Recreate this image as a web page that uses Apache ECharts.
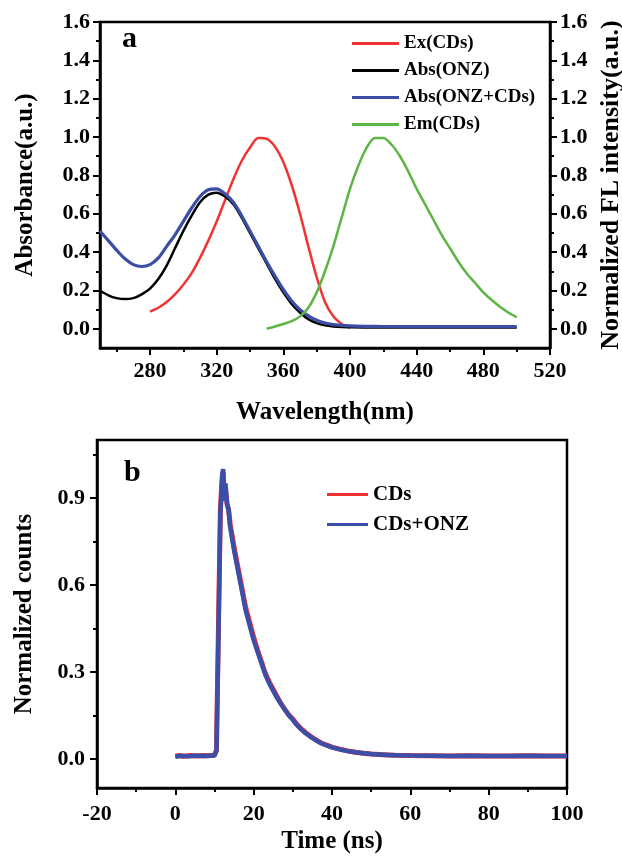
<!DOCTYPE html>
<html>
<head>
<meta charset="utf-8">
<script src="https://cdn.jsdelivr.net/npm/echarts@6/dist/echarts.min.js"></script>
<style>
html,body{margin:0;padding:0;background:#fff;}
#chart{width:622px;height:857px;}
</style>
</head>
<body>
<div id="chart"></div>
<script>
// ---- Panel a data ----
var absWavelength = [250,255,260,265,270,275,280,285,290,295,300,305,310,315,320,325,330,335,340,345,350,355,360,365,370,375,380,385,390,395,400,410,420,440,460,480,500];
var absONZ = [0.20,0.175,0.16,0.155,0.16,0.18,0.21,0.26,0.33,0.42,0.51,0.59,0.66,0.70,0.71,0.69,0.65,0.58,0.50,0.42,0.34,0.26,0.19,0.13,0.085,0.05,0.03,0.018,0.012,0.009,0.008,0.007,0.007,0.007,0.007,0.007,0.007];
var absONZCDs = [0.51,0.46,0.41,0.365,0.335,0.325,0.335,0.37,0.43,0.49,0.56,0.63,0.69,0.725,0.73,0.705,0.66,0.59,0.51,0.43,0.35,0.275,0.205,0.145,0.10,0.068,0.045,0.03,0.022,0.018,0.015,0.013,0.012,0.011,0.011,0.011,0.011];
var exWavelength = [280,285,290,295,300,305,310,315,320,325,330,335,340,345,350,355,360,365,370,375,380,385,390,395,400];
var exCDs = [0.09,0.11,0.14,0.18,0.23,0.29,0.37,0.46,0.56,0.67,0.78,0.875,0.945,0.995,0.99,0.95,0.87,0.75,0.60,0.43,0.27,0.14,0.065,0.025,0.005];
var emWavelength = [350,355,360,365,370,375,380,385,390,395,400,405,410,415,420,425,430,435,440,445,450,455,460,465,470,475,480,485,490,495,500];
var emCDs = [0.0,0.012,0.025,0.04,0.065,0.11,0.19,0.30,0.43,0.58,0.73,0.85,0.945,0.995,0.995,0.96,0.90,0.82,0.73,0.65,0.57,0.49,0.42,0.35,0.29,0.24,0.19,0.15,0.115,0.085,0.06];
var wlLabelTicks = [280,320,360,400,440,480,520];
var wlMinorTicks = [260,300,340,380,420,460,500];
var intensityLabels = [0,0.2,0.4,0.6,0.8,1.0,1.2,1.4,1.6];
var intensityMinor = [0.1,0.3,0.5,0.7,0.9,1.1,1.3,1.5];

// ---- Panel b data ----
var timeNs = [0,1,2,3,4,5,6,7,8,9,10,10.5,11,11.5,12,12.2,12.5,12.8,13.2,13.6,14,15,16,17,18,19,20,21,22,23,24,25,26,27,28,29,30,31,32,33,34,35,36,37,38,39,40,42,44,46,48,50,53,56,60,65,70,75,80,85,90,95,100];
var countsCDs = [0.01,0.012,0.009,0.011,0.012,0.01,0.011,0.012,0.011,0.012,0.013,0.03,0.45,0.86,0.98,0.99,0.90,0.93,0.88,0.86,0.81,0.73,0.66,0.59,0.52,0.47,0.42,0.375,0.335,0.295,0.265,0.24,0.215,0.19,0.17,0.152,0.138,0.12,0.106,0.094,0.083,0.074,0.065,0.057,0.051,0.046,0.041,0.034,0.028,0.023,0.02,0.017,0.015,0.013,0.012,0.011,0.01,0.011,0.01,0.01,0.011,0.01,0.01];
var countsCDsONZ = [0.008,0.01,0.011,0.009,0.01,0.012,0.01,0.011,0.01,0.011,0.012,0.03,0.42,0.85,0.98,1.0,0.89,0.95,0.88,0.86,0.80,0.72,0.65,0.58,0.51,0.46,0.41,0.37,0.33,0.29,0.26,0.235,0.21,0.19,0.17,0.15,0.135,0.118,0.104,0.092,0.082,0.072,0.064,0.056,0.05,0.045,0.04,0.033,0.027,0.023,0.02,0.017,0.015,0.013,0.012,0.011,0.01,0.011,0.01,0.01,0.011,0.01,0.01];
var timeLabelTicks = [-20,0,20,40,60,80,100];
var timeMinorTicks = [-10,10,30,50,70,90];
var countLabels = [0,0.3,0.6,0.9];
var countMinor = [0.15,0.45,0.75,1.05];

function pairs(xs, ys){ return xs.map(function(x,i){ return [x, ys[i]]; }); }

var FONT = '"Liberation Serif", "Times New Roman", serif';
var BLACK = '#000';
var axisLine = {show:true, onZero:false, lineStyle:{color:BLACK, width:2.5}};

function majorAxis(opts){
  var a = {
    type:'value', gridIndex:opts.grid, min:opts.min, max:opts.max, position:opts.position,
    axisLine: axisLine,
    axisTick:{show:true, inside:false, length:7, customValues:opts.ticks, lineStyle:{color:BLACK, width:2}},
    axisLabel:{show:true, customValues:opts.ticks, margin:opts.margin, formatter:opts.fmt, color:BLACK, fontFamily:FONT, fontWeight:'bold', fontSize:22},
    splitLine:{show:false}
  };
  if (opts.name){
    a.name = opts.name; a.nameLocation = 'middle'; a.nameGap = opts.nameGap;
    a.nameTextStyle = {color:BLACK, fontFamily:FONT, fontWeight:'bold', fontSize:opts.nameSize || 25};
  }
  return a;
}
function minorAxis(opts){
  return {
    type:'value', gridIndex:opts.grid, min:opts.min, max:opts.max, position:opts.position,
    axisLine:{show:false, onZero:false},
    axisTick:{show:true, inside:false, length:4, customValues:opts.ticks, lineStyle:{color:BLACK, width:2}},
    axisLabel:{show:false},
    splitLine:{show:false}
  };
}

var fmt1 = function(v){ return v.toFixed(1); };
var fmt0 = function(v){ return String(v); };

var option = {
  backgroundColor:'#fff',
  animation:false,
  grid:[
    {left:100, top:22, width:450, height:326, show:true, borderColor:BLACK, borderWidth:2.5, backgroundColor:'transparent', containLabel:false, outerBoundsMode:'none'},
    {left:97, top:440, width:470, height:348, show:true, borderColor:BLACK, borderWidth:2.5, backgroundColor:'transparent', containLabel:false, outerBoundsMode:'none'}
  ],
  xAxis:[
    majorAxis({grid:0, min:250, max:520, position:'bottom', ticks:wlLabelTicks, margin:12, fmt:fmt0, name:'Wavelength(nm)', nameGap:52}),
    minorAxis({grid:0, min:250, max:520, position:'bottom', ticks:wlMinorTicks}),
    majorAxis({grid:1, min:-20, max:100, position:'bottom', ticks:timeLabelTicks, margin:15, fmt:fmt0, name:'Time (ns)', nameGap:41}),
    minorAxis({grid:1, min:-20, max:100, position:'bottom', ticks:timeMinorTicks})
  ],
  yAxis:[
    majorAxis({grid:0, min:-0.1, max:1.6, position:'left', ticks:intensityLabels, margin:10, fmt:fmt1, name:'Absorbance(a.u.)', nameGap:62}),
    minorAxis({grid:0, min:-0.1, max:1.6, position:'left', ticks:intensityMinor}),
    majorAxis({grid:0, min:-0.1, max:1.6, position:'right', ticks:intensityLabels, margin:10, fmt:fmt1, name:'Normalized FL intensity(a.u.)', nameGap:48, nameSize:26}),
    minorAxis({grid:0, min:-0.1, max:1.6, position:'right', ticks:intensityMinor}),
    majorAxis({grid:1, min:-0.1, max:1.1, position:'left', ticks:countLabels, margin:12, fmt:fmt1, name:'Normalized counts', nameGap:60}),
    minorAxis({grid:1, min:-0.1, max:1.1, position:'left', ticks:countMinor})
  ],
  legend:[
    {
      data:['Ex(CDs)','Abs(ONZ)','Abs(ONZ+CDs)','Em(CDs)'],
      orient:'vertical', left:347, top:29, itemWidth:47, itemHeight:3, itemGap:8, icon:'rect',
      textStyle:{color:BLACK, fontFamily:FONT, fontWeight:'bold', fontSize:19, lineHeight:19}
    },
    {
      data:['CDs','CDs+ONZ'],
      orient:'vertical', left:322, top:479, itemWidth:41, itemHeight:3, itemGap:9, icon:'rect',
      textStyle:{color:BLACK, fontFamily:FONT, fontWeight:'bold', fontSize:21, lineHeight:20}
    }
  ],
  graphic:[
    {type:'text', left:122, top:24, style:{text:'a', fill:BLACK, font:'bold 30px ' + FONT}},
    {type:'text', left:124, top:458, style:{text:'b', fill:BLACK, font:'bold 30px ' + FONT}}
  ],
  series:[
    {name:'Ex(CDs)', type:'line', xAxisIndex:0, yAxisIndex:2, data:pairs(exWavelength, exCDs), smooth:0.3, showSymbol:false, color:'#f03434', lineStyle:{width:2.5, color:'#f03434'}},
    {name:'Abs(ONZ)', type:'line', xAxisIndex:0, yAxisIndex:0, data:pairs(absWavelength, absONZ), smooth:0.3, showSymbol:false, color:'#000', lineStyle:{width:2.5, color:'#000'}},
    {name:'Abs(ONZ+CDs)', type:'line', xAxisIndex:0, yAxisIndex:0, data:pairs(absWavelength, absONZCDs), smooth:0.3, showSymbol:false, color:'#3a4ea6', lineStyle:{width:3.2, color:'#3a4ea6'}},
    {name:'Em(CDs)', type:'line', xAxisIndex:0, yAxisIndex:2, data:pairs(emWavelength, emCDs), smooth:0.3, showSymbol:false, color:'#5cb545', lineStyle:{width:2.5, color:'#5cb545'}},
    {name:'CDs', type:'line', xAxisIndex:2, yAxisIndex:4, data:pairs(timeNs, countsCDs), showSymbol:false, color:'#f03030', lineStyle:{width:5, color:'#f03030'}},
    {name:'CDs+ONZ', type:'line', xAxisIndex:2, yAxisIndex:4, data:pairs(timeNs, countsCDsONZ), showSymbol:false, color:'#3b4ea8', lineStyle:{width:4.5, color:'#3b4ea8'}}
  ]
};

var chart = echarts.init(document.getElementById('chart'), null, {renderer:'canvas'});
chart.setOption(option);
</script>
</body>
</html>
